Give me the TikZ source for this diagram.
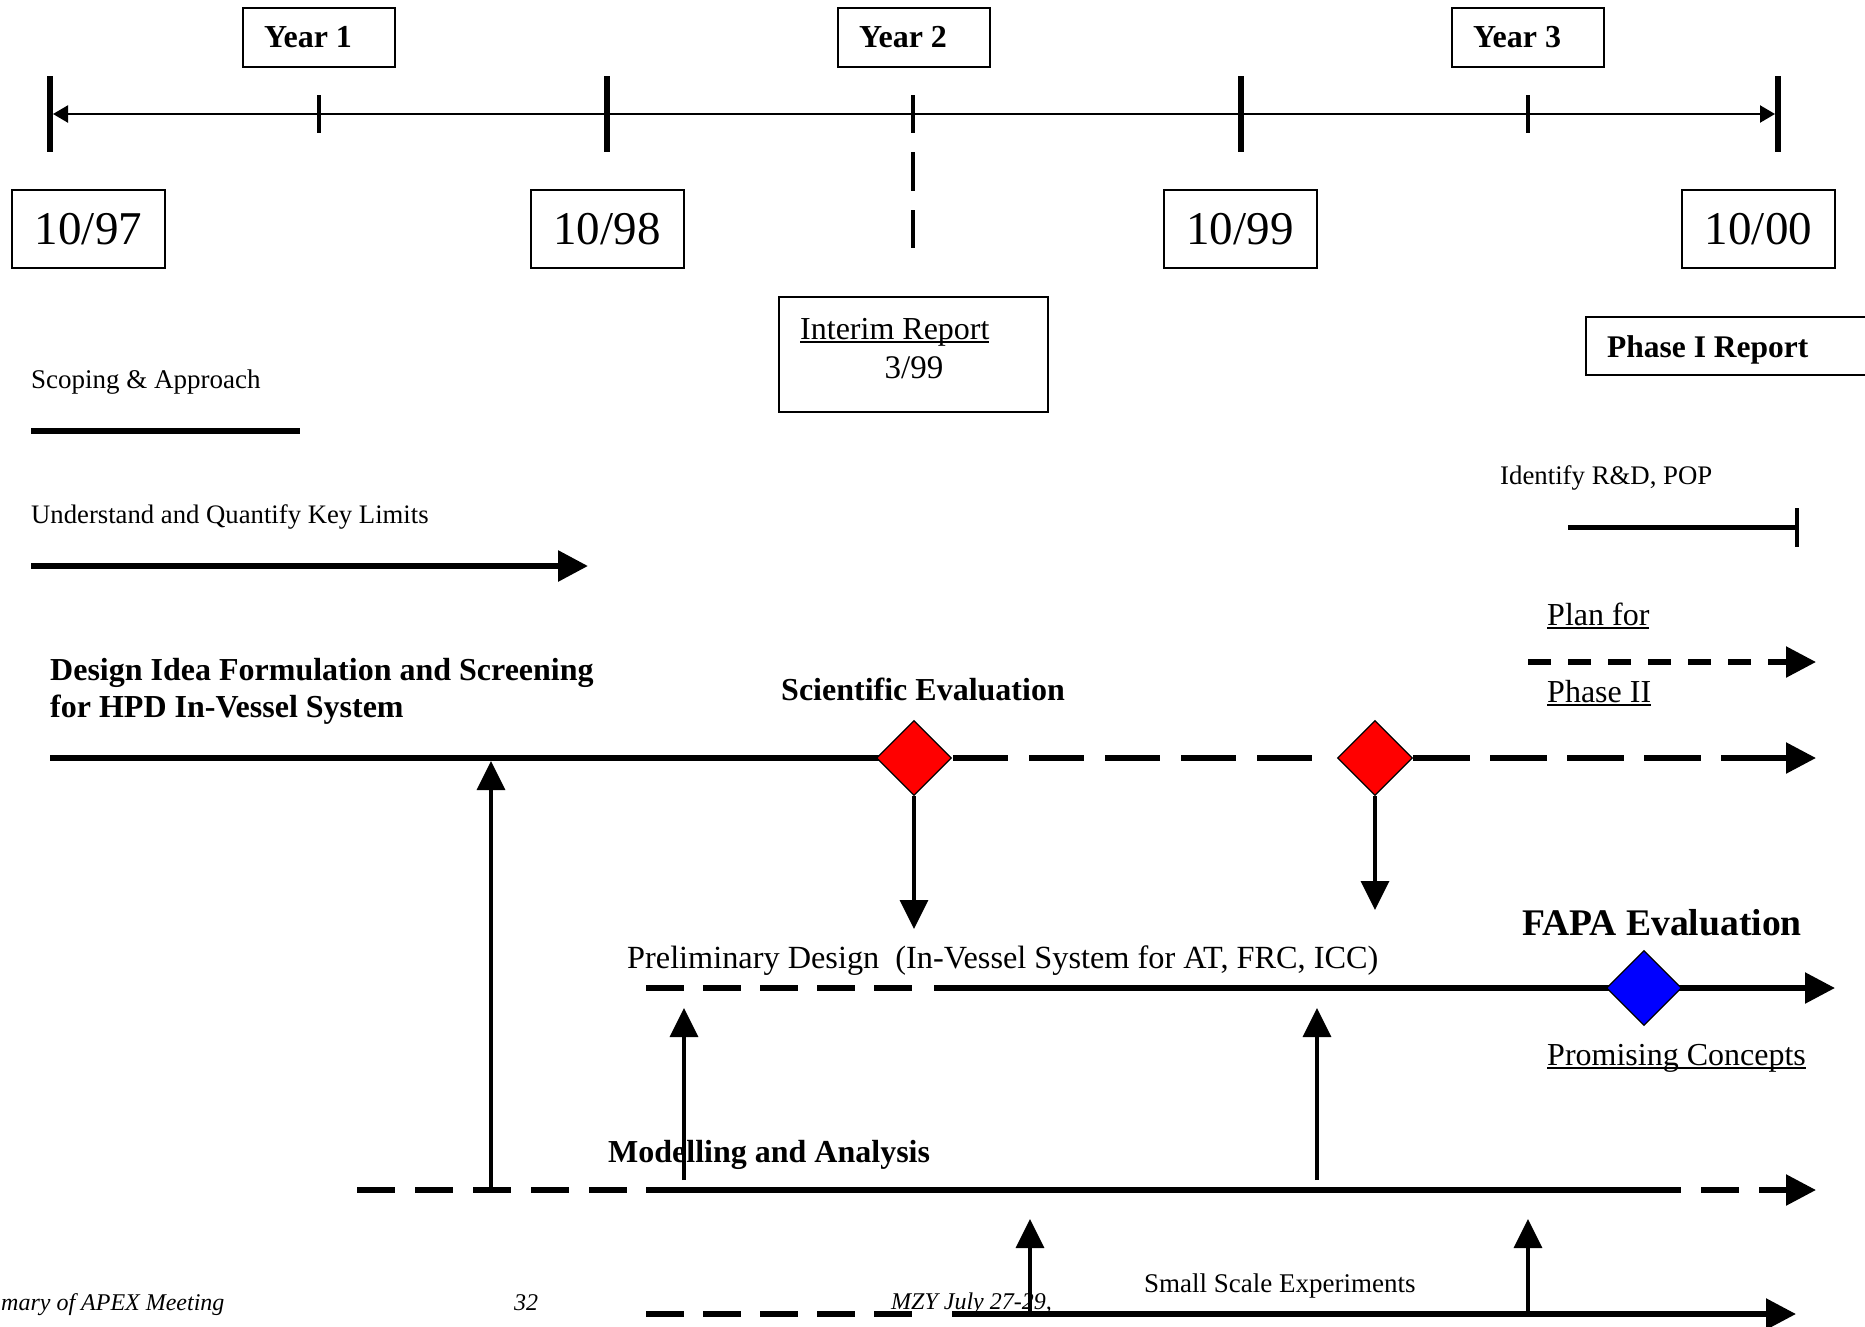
\documentclass[tikz,border=0pt]{standalone}
\usepackage{fontspec}
\setmainfont{Liberation Serif}
\usetikzlibrary{arrows.meta,shapes.geometric}
\newcommand\ulin[1]{\setbox0\hbox{#1}\rlap{\rule[-3.5pt]{\wd0}{1.6pt}}\box0}
\newcommand\fsz[1]{\fontsize{#1}{#1}\selectfont}
\tikzset{
  tx/.style={inner sep=0pt, anchor=base west},
  boxx/.style={draw, line width=2pt, inner sep=0pt},
  yearbox/.style={boxx, minimum width=152pt, minimum height=59pt, font=\fsz{32}\bfseries},
  datebox/.style={boxx, minimum width=153pt, minimum height=78pt, font=\fsz{47}},
  thk/.style={line width=5.5pt},
  arr/.style={-{Triangle[length=30pt,width=30pt]}},
  varr/.style={line width=3.5pt, -{Triangle[length=29pt,width=28pt]}},
  dia/.style={diamond, draw, line width=1.2pt, minimum width=75pt, minimum height=75pt, inner sep=0pt, aspect=1},
  dashlong/.style={dash pattern=on 55pt off 21pt},
  dashmid/.style={dash pattern=on 38pt off 19pt},
  dashmod/.style={dash pattern=on 38pt off 20pt},
  dashshort/.style={dash pattern=on 22.5pt off 17.5pt}
}
\begin{document}
\begin{tikzpicture}[x=1pt,y=-1pt]
\useasboundingbox (0,0) rectangle (1865,1326);
\clip (0,0) rectangle (1865,1326);
\fill[white] (0,0) rectangle (1865,1326);

% ---------- year boxes ----------
\node[yearbox] (y1) at (319,37.5) {\hspace*{-22pt}Year 1};
\node[yearbox] (y2) at (913.5,37.5) {\hspace*{-21pt}Year 2};
\node[yearbox] (y3) at (1527.5,37.5) {\hspace*{-21pt}Year 3};

% ---------- timeline ----------
\coordinate (tlL) at (53,114);
\coordinate (tlR) at (1775,114);
\draw[line width=2.2pt, {Triangle[length=15pt,width=17pt]}-{Triangle[length=15pt,width=17pt]}] (tlL) -- (tlR);
\foreach \x in {50,607,1241,1778}
  \draw[line width=6pt] (\x,76) -- (\x,152);
\foreach \x in {319,913,1528}
  \draw[line width=3.5pt] (\x,95) -- (\x,133);
\draw[line width=3.5pt] (913,152) -- (913,191) (913,210) -- (913,248);

% ---------- date boxes ----------
\node[datebox] (d97) at (88.5,229) {10/97};
\node[datebox] (d98) at (607,229) {10/98};
\node[datebox] (d99) at (1240,229) {10/99};
\node[datebox] (d00) at (1758.5,229) {10/00};

% ---------- reports ----------
\node[boxx, minimum width=269pt, minimum height=115pt] (ir) at (913.5,354.5) {};
\node[tx, font=\fsz{32}] (irt) at (800,339) {\ulin{Interim Report}};
\node[inner sep=0pt, anchor=base, font=\fsz{33}] (ird) at (914,378) {3/99};
\node[boxx, minimum width=320pt, minimum height=58pt, anchor=north west] (p1) at (1585,316) {};
\node[tx, font=\fsz{31.5}\bfseries] (p1t) at (1607,357) {Phase I Report};

% ---------- scoping / understanding ----------
\node[tx, font=\fsz{27}] (scop) at (31,388) {Scoping \& Approach};
\coordinate (scA) at (31,431);
\coordinate (scB) at (300,431);
\draw[line width=6pt] (scA) -- (scB);
\node[tx, font=\fsz{26.7}] (und) at (31,523) {Understand and Quantify Key Limits};
\coordinate (unA) at (31,566);
\coordinate (unB) at (588,566);
\draw[line width=6pt, arr] (unA) -- (unB);

% ---------- identify / plan ----------
\node[tx, font=\fsz{26.8}] (ident) at (1500,484) {Identify R\&D, POP};
\coordinate (idA) at (1568,527);
\coordinate (idB) at (1797,527);
\draw[line width=5pt] (idA) -- (idB);
\draw[line width=3.5pt] (1797,508) -- (1797,547);
\node[tx, font=\fsz{32}] (planfor) at (1547,625) {\ulin{Plan for}};
\node[tx, font=\fsz{32}] (phase2) at (1547,702) {\ulin{Phase II}};
\coordinate (plA) at (1528,662);
\coordinate (plB) at (1768,662);
\coordinate (plC) at (1816,662);
\draw[thk, dashshort] (plA) -- (plB);
\draw[thk, arr] (plB) -- (plC);

% ---------- design idea line ----------
\node[tx, font=\fsz{32}\bfseries] (des1) at (50,680) {Design Idea Formulation and Screening};
\node[tx, font=\fsz{32}\bfseries] (des2) at (50,717) {for HPD In-Vessel System};
\node[tx, font=\fsz{32}\bfseries] (sci) at (781,700) {Scientific Evaluation};
\coordinate (dsA) at (50,758);
\coordinate (dsB) at (953,758);
\coordinate (dsC) at (1320,758);
\coordinate (dsD) at (1413,758);
\coordinate (dsE) at (1705,758);
\coordinate (dsF) at (1721,758);
\coordinate (dsG) at (1816,758);
\draw[thk] (dsA) -- (914,758);
\draw[thk, dashlong] (dsB) -- (dsC);
\draw[thk, dash pattern=on 57pt off 20pt] (dsD) -- (dsE);
\draw[thk, arr] (dsF) -- (dsG);

% ---------- preliminary design line ----------
\node[tx, font=\fsz{32.3}] (prel) at (627,968) {Preliminary Design\ \ (In-Vessel System for AT, FRC, ICC)};
\node[tx, font=\fsz{37.6}\bfseries] (fapa) at (1522,935) {FAPA Evaluation};
\node[tx, font=\fsz{32}] (prom) at (1547,1065) {\ulin{Promising Concepts}};
\coordinate (pdA) at (646,988);
\coordinate (pdB) at (914,988);
\coordinate (pdC) at (934,988);
\coordinate (pdD) at (1835,988);
\draw[thk, dashmid] (pdA) -- (pdB);
\draw[thk, arr] (pdC) -- (pdD);

% ---------- modelling line ----------
\node[tx, font=\fsz{32}\bfseries] (mod) at (608,1162) {Modelling and Analysis};
\coordinate (mdA) at (357,1190);
\coordinate (mdB) at (630,1190);
\coordinate (mdC) at (646,1190);
\coordinate (mdD) at (1681,1190);
\coordinate (mdE) at (1701,1190);
\coordinate (mdF) at (1739,1190);
\coordinate (mdG) at (1759,1190);
\coordinate (mdH) at (1816,1190);
\draw[thk, dashmod] (mdA) -- (mdB);
\draw[thk] (mdC) -- (mdD);
\draw[thk] (mdE) -- (mdF);
\draw[thk, arr] (mdG) -- (mdH);

% ---------- footer texts ----------
\node[tx, font=\fsz{24}\itshape] (foot1) at (1,1310) {mary of APEX Meeting};
\node[tx, font=\fsz{24}\itshape] (foot2) at (514,1310) {32};
\node[tx, font=\fsz{24}\itshape] (foot3) at (891,1309) {MZY July 27-29,};

% ---------- small scale line ----------
\node[tx, font=\fsz{27}] (sse) at (1144,1292) {Small Scale Experiments};
\coordinate (ssA) at (646,1314);
\coordinate (ssB) at (914,1314);
\coordinate (ssC) at (952,1314);
\coordinate (ssD) at (1796,1314);
\draw[thk, dashmid] (ssA) -- (ssB);
\draw[thk, arr] (ssC) -- (ssD);

% ---------- diamonds ----------
\node[dia, fill=red] (dm1) at (914,758) {};
\node[dia, fill=red] (dm2) at (1375,758) {};
\node[dia, fill=blue] (dm3) at (1644,988) {};

% ---------- vertical connectors ----------
\coordinate (v1end) at (914,929);
\coordinate (v2end) at (1375,910);
\draw[varr] (dm1.south) -- (v1end);
\draw[varr] (dm2.south) -- (v2end);
\coordinate (u1s) at (491,1187);
\coordinate (u1e) at (491,761);
\draw[varr] (u1s) -- (u1e);
\coordinate (u2s) at (684,1180);
\coordinate (u2e) at (684,1008);
\draw[varr] (u2s) -- (u2e);
\coordinate (u3s) at (1317,1180);
\coordinate (u3e) at (1317,1008);
\draw[varr] (u3s) -- (u3e);
\coordinate (u4s) at (1030,1312);
\coordinate (u4e) at (1030,1219);
\draw[varr] (u4s) -- (u4e);
\coordinate (u5s) at (1528,1312);
\coordinate (u5e) at (1528,1219);
\draw[varr] (u5s) -- (u5e);
\end{tikzpicture}
\end{document}
